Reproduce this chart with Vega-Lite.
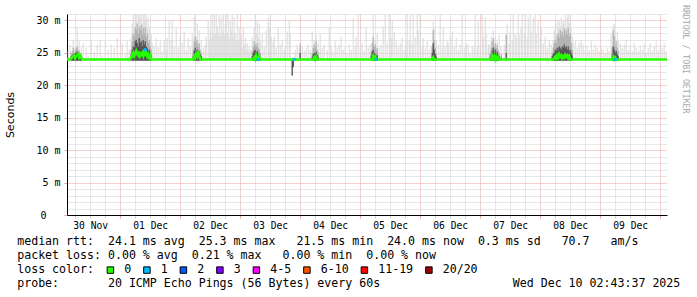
{
 "$schema": "https://vega.github.io/schema/vega-lite/v6.json",
 "width": 600,
 "height": 201,
 "autosize": {"type": "none"},
 "padding": {"left": 67, "top": 14, "right": 30, "bottom": 82},
 "background": "white",
 "config": {"view": {"stroke": null}, "font": "DejaVu Sans Mono"},
 "title": {"text": "RRDTOOL / TOBI OETIKER", "orient": "right", "anchor": "start", "frame": "group", "font": "DejaVu Sans Mono", "fontSize": 8.2, "fontWeight": "normal", "color": "#a8a8a8", "offset": 1, "dx": -9},
 "datasets": {
  "light": [
   {"t":"2025-11-30T03:12","v":25.3},{"t":"2025-11-30T04:00","v":26.3},{"t":"2025-11-30T04:48","v":24.8},{"t":"2025-11-30T05:12","v":27.0},{"t":"2025-11-30T06:00","v":25.5},{"t":"2025-11-30T06:48","v":28.9},{"t":"2025-11-30T07:36","v":26.8},{"t":"2025-11-30T08:24","v":25.8},{"t":"2025-11-30T09:12","v":26.5},{"t":"2025-11-30T10:24","v":25.8},{"t":"2025-11-30T11:12","v":24.6},{"t":"2025-11-30T12:24","v":26.8},{"t":"2025-11-30T13:36","v":25.2},{"t":"2025-11-30T14:48","v":26.3},{"t":"2025-11-30T16:00","v":27.0},{"t":"2025-11-30T16:48","v":24.7},{"t":"2025-11-30T18:00","v":26.8},{"t":"2025-11-30T19:12","v":25.5},{"t":"2025-11-30T20:24","v":26.3},{"t":"2025-11-30T21:36","v":25.8},{"t":"2025-11-30T22:48","v":27.3},
   {"t":"2025-12-01T00:00","v":25.0},{"t":"2025-12-01T00:48","v":26.5},{"t":"2025-12-01T02:00","v":24.8},{"t":"2025-12-01T02:48","v":26.8},{"t":"2025-12-01T03:36","v":25.5},{"t":"2025-12-01T04:24","v":27.5},{"t":"2025-12-01T04:48","v":29.5},{"t":"2025-12-01T05:12","v":30.9},{"t":"2025-12-01T05:36","v":28.5},{"t":"2025-12-01T06:00","v":30.9},{"t":"2025-12-01T06:24","v":31},{"t":"2025-12-01T06:48","v":29.8},{"t":"2025-12-01T07:12","v":30.9},{"t":"2025-12-01T07:36","v":31},{"t":"2025-12-01T08:00","v":30.5},{"t":"2025-12-01T08:24","v":31},{"t":"2025-12-01T08:48","v":29.5},{"t":"2025-12-01T09:12","v":30.9},{"t":"2025-12-01T09:36","v":31},{"t":"2025-12-01T10:00","v":30.2},{"t":"2025-12-01T10:24","v":30.9},{"t":"2025-12-01T10:48","v":28.8},{"t":"2025-12-01T11:12","v":30.5},{"t":"2025-12-01T11:36","v":29.0},{"t":"2025-12-01T12:00","v":27.5},{"t":"2025-12-01T12:24","v":28.0},{"t":"2025-12-01T12:48","v":26.5},{"t":"2025-12-01T13:36","v":26.0},{"t":"2025-12-01T14:24","v":27.3},{"t":"2025-12-01T15:12","v":25.8},{"t":"2025-12-01T16:00","v":26.8},{"t":"2025-12-01T16:48","v":25.3},{"t":"2025-12-01T17:36","v":27.0},{"t":"2025-12-01T18:24","v":25.5},{"t":"2025-12-01T18:48","v":27.3},{"t":"2025-12-01T19:36","v":29.9},{"t":"2025-12-01T20:24","v":27.0},{"t":"2025-12-01T20:48","v":29.9},{"t":"2025-12-01T21:36","v":26.0},{"t":"2025-12-01T22:24","v":28.9},{"t":"2025-12-01T23:12","v":25.8},
   {"t":"2025-12-02T00:00","v":27.8},{"t":"2025-12-02T00:48","v":26.5},{"t":"2025-12-02T01:36","v":28.3},{"t":"2025-12-02T02:24","v":25.5},{"t":"2025-12-02T03:12","v":27.3},{"t":"2025-12-02T04:00","v":26.0},{"t":"2025-12-02T04:48","v":28.0},{"t":"2025-12-02T05:36","v":30.5},{"t":"2025-12-02T06:00","v":30.9},{"t":"2025-12-02T06:24","v":27.5},{"t":"2025-12-02T06:48","v":29.5},{"t":"2025-12-02T07:36","v":28.5},{"t":"2025-12-02T08:24","v":27.0},{"t":"2025-12-02T09:12","v":25.8},{"t":"2025-12-02T10:00","v":26.3},{"t":"2025-12-02T10:24","v":27.5},{"t":"2025-12-02T11:12","v":29.9},{"t":"2025-12-02T11:36","v":26.8},{"t":"2025-12-02T12:00","v":28.5},{"t":"2025-12-02T12:24","v":27.3},{"t":"2025-12-02T12:48","v":31},{"t":"2025-12-02T13:12","v":28.0},{"t":"2025-12-02T13:36","v":30.9},{"t":"2025-12-02T14:00","v":27.8},{"t":"2025-12-02T14:24","v":31},{"t":"2025-12-02T14:48","v":29.0},{"t":"2025-12-02T15:12","v":28.0},{"t":"2025-12-02T15:36","v":31},{"t":"2025-12-02T16:00","v":27.5},{"t":"2025-12-02T16:24","v":30.5},{"t":"2025-12-02T16:48","v":28.3},{"t":"2025-12-02T17:12","v":31},{"t":"2025-12-02T17:36","v":27.8},{"t":"2025-12-02T18:00","v":29.5},{"t":"2025-12-02T18:24","v":31},{"t":"2025-12-02T18:48","v":28.0},{"t":"2025-12-02T19:12","v":30.9},{"t":"2025-12-02T19:36","v":27.3},{"t":"2025-12-02T20:00","v":29.9},{"t":"2025-12-02T20:24","v":28.5},{"t":"2025-12-02T20:48","v":31},{"t":"2025-12-02T21:12","v":27.5},{"t":"2025-12-02T21:36","v":30.5},{"t":"2025-12-02T22:00","v":28.0},{"t":"2025-12-02T22:24","v":26.8},{"t":"2025-12-02T22:48","v":31},{"t":"2025-12-02T23:12","v":27.0},{"t":"2025-12-02T23:36","v":28.9},
   {"t":"2025-12-03T00:00","v":26.5},{"t":"2025-12-03T00:24","v":27.8},{"t":"2025-12-03T00:48","v":25.8},{"t":"2025-12-03T01:12","v":29.0},{"t":"2025-12-03T01:36","v":26.3},{"t":"2025-12-03T02:00","v":27.3},{"t":"2025-12-03T02:24","v":25.5},{"t":"2025-12-03T02:48","v":26.5},{"t":"2025-12-03T03:12","v":25.3},{"t":"2025-12-03T03:36","v":26.0},{"t":"2025-12-03T04:00","v":25.5},{"t":"2025-12-03T04:48","v":27.5},{"t":"2025-12-03T05:36","v":29.0},{"t":"2025-12-03T06:00","v":30.9},{"t":"2025-12-03T06:24","v":28.0},{"t":"2025-12-03T06:48","v":30.0},{"t":"2025-12-03T07:12","v":27.5},{"t":"2025-12-03T07:36","v":29.5},{"t":"2025-12-03T08:00","v":26.8},{"t":"2025-12-03T08:48","v":28.0},{"t":"2025-12-03T09:36","v":26.0},{"t":"2025-12-03T10:24","v":28.5},{"t":"2025-12-03T11:12","v":30.5},{"t":"2025-12-03T11:36","v":29.0},{"t":"2025-12-03T12:00","v":30.9},{"t":"2025-12-03T12:24","v":27.5},{"t":"2025-12-03T13:12","v":26.8},{"t":"2025-12-03T13:36","v":27.5},{"t":"2025-12-03T14:24","v":25.8},{"t":"2025-12-03T15:12","v":28.9},{"t":"2025-12-03T16:00","v":26.3},{"t":"2025-12-03T16:48","v":27.0},{"t":"2025-12-03T17:36","v":25.5},{"t":"2025-12-03T18:00","v":26.0},{"t":"2025-12-03T18:48","v":28.3},{"t":"2025-12-03T19:36","v":30.0},{"t":"2025-12-03T20:00","v":28.0},{"t":"2025-12-03T22:00","v":25.5},{"t":"2025-12-03T22:48","v":26.3},{"t":"2025-12-03T23:36","v":25.8},
   {"t":"2025-12-04T00:48","v":26.0},{"t":"2025-12-04T01:36","v":25.3},{"t":"2025-12-04T02:24","v":25.8},{"t":"2025-12-04T03:12","v":26.3},{"t":"2025-12-04T04:00","v":25.5},{"t":"2025-12-04T04:48","v":28.3},{"t":"2025-12-04T05:36","v":27.0},{"t":"2025-12-04T06:24","v":27.8},{"t":"2025-12-04T07:12","v":26.5},{"t":"2025-12-04T08:00","v":28.0},{"t":"2025-12-04T08:48","v":25.8},{"t":"2025-12-04T09:36","v":26.3},{"t":"2025-12-04T10:48","v":25.5},{"t":"2025-12-04T11:36","v":28.9},{"t":"2025-12-04T12:24","v":26.0},{"t":"2025-12-04T13:12","v":25.3},{"t":"2025-12-04T14:00","v":26.8},{"t":"2025-12-04T14:48","v":25.8},{"t":"2025-12-04T15:36","v":26.3},{"t":"2025-12-04T16:24","v":27.5},{"t":"2025-12-04T17:12","v":25.5},{"t":"2025-12-04T18:00","v":26.0},{"t":"2025-12-04T18:48","v":24.8},{"t":"2025-12-04T19:36","v":26.3},{"t":"2025-12-04T20:24","v":25.5},{"t":"2025-12-04T21:12","v":30.4},{"t":"2025-12-04T22:00","v":26.0},{"t":"2025-12-04T22:24","v":27.5},{"t":"2025-12-04T23:12","v":31},
   {"t":"2025-12-05T00:00","v":25.8},{"t":"2025-12-05T00:48","v":26.5},{"t":"2025-12-05T01:36","v":25.3},{"t":"2025-12-05T02:24","v":28.9},{"t":"2025-12-05T03:12","v":25.8},{"t":"2025-12-05T04:00","v":26.3},{"t":"2025-12-05T05:12","v":31},{"t":"2025-12-05T06:00","v":27.0},{"t":"2025-12-05T06:48","v":28.0},{"t":"2025-12-05T07:36","v":25.8},{"t":"2025-12-05T08:24","v":26.3},{"t":"2025-12-05T09:12","v":29.1},{"t":"2025-12-05T10:00","v":30.9},{"t":"2025-12-05T10:48","v":26.5},{"t":"2025-12-05T11:36","v":31},{"t":"2025-12-05T12:24","v":27.3},{"t":"2025-12-05T12:48","v":30.0},{"t":"2025-12-05T13:36","v":28.2},{"t":"2025-12-05T14:24","v":26.8},{"t":"2025-12-05T15:12","v":25.8},{"t":"2025-12-05T16:00","v":26.5},{"t":"2025-12-05T16:48","v":27.3},{"t":"2025-12-05T17:36","v":25.5},{"t":"2025-12-05T18:24","v":26.8},{"t":"2025-12-05T18:48","v":31},{"t":"2025-12-05T19:36","v":27.0},{"t":"2025-12-05T20:00","v":30.9},{"t":"2025-12-05T20:48","v":26.5},{"t":"2025-12-05T21:12","v":30.9},{"t":"2025-12-05T22:00","v":27.5},{"t":"2025-12-05T22:48","v":31},{"t":"2025-12-05T23:12","v":28.5},
   {"t":"2025-12-06T00:00","v":31},{"t":"2025-12-06T00:48","v":26.0},{"t":"2025-12-06T01:12","v":27.3},{"t":"2025-12-06T02:00","v":25.8},{"t":"2025-12-06T02:48","v":26.8},{"t":"2025-12-06T03:36","v":25.5},{"t":"2025-12-06T04:24","v":26.0},{"t":"2025-12-06T05:12","v":29.8},{"t":"2025-12-06T05:36","v":29.0},{"t":"2025-12-06T06:24","v":27.0},{"t":"2025-12-06T07:12","v":26.3},{"t":"2025-12-06T08:00","v":31},{"t":"2025-12-06T08:48","v":25.8},{"t":"2025-12-06T09:12","v":28.9},{"t":"2025-12-06T10:00","v":26.0},{"t":"2025-12-06T10:48","v":27.0},{"t":"2025-12-06T11:12","v":26.5},{"t":"2025-12-06T12:00","v":27.5},{"t":"2025-12-06T12:48","v":28.3},{"t":"2025-12-06T13:36","v":26.0},{"t":"2025-12-06T14:24","v":27.3},{"t":"2025-12-06T15:12","v":25.5},{"t":"2025-12-06T16:00","v":26.3},{"t":"2025-12-06T16:48","v":31},{"t":"2025-12-06T17:36","v":25.8},{"t":"2025-12-06T18:24","v":26.5},{"t":"2025-12-06T19:12","v":26.3},{"t":"2025-12-06T20:00","v":25.0},{"t":"2025-12-06T20:48","v":26.0},{"t":"2025-12-06T21:36","v":25.8},{"t":"2025-12-06T22:00","v":30.9},{"t":"2025-12-06T22:48","v":26.0},{"t":"2025-12-06T23:12","v":30.1},
   {"t":"2025-12-07T00:00","v":26.3},{"t":"2025-12-07T00:48","v":30.9},{"t":"2025-12-07T01:12","v":27.5},{"t":"2025-12-07T02:00","v":30.5},{"t":"2025-12-07T02:24","v":28.0},{"t":"2025-12-07T03:12","v":26.3},{"t":"2025-12-07T03:36","v":26.3},{"t":"2025-12-07T04:24","v":27.5},{"t":"2025-12-07T05:12","v":28.5},{"t":"2025-12-07T06:00","v":27.5},{"t":"2025-12-07T06:48","v":26.8},{"t":"2025-12-07T07:36","v":27.8},{"t":"2025-12-07T08:24","v":26.0},{"t":"2025-12-07T09:36","v":26.3},{"t":"2025-12-07T10:24","v":27.8},{"t":"2025-12-07T10:48","v":29.4},{"t":"2025-12-07T11:36","v":26.5},{"t":"2025-12-07T12:00","v":28.3},{"t":"2025-12-07T12:48","v":26.8},{"t":"2025-12-07T13:12","v":30.9},{"t":"2025-12-07T14:00","v":28.0},{"t":"2025-12-07T14:24","v":27.5},{"t":"2025-12-07T15:12","v":31},{"t":"2025-12-07T15:36","v":27.8},{"t":"2025-12-07T16:24","v":29.0},{"t":"2025-12-07T16:48","v":30.9},{"t":"2025-12-07T17:36","v":28.0},{"t":"2025-12-07T18:00","v":30.9},{"t":"2025-12-07T18:48","v":27.5},{"t":"2025-12-07T19:12","v":30.5},{"t":"2025-12-07T20:00","v":30.9},{"t":"2025-12-07T20:24","v":28.3},{"t":"2025-12-07T21:12","v":30.5},{"t":"2025-12-07T22:00","v":30.9},{"t":"2025-12-07T22:24","v":28.0},{"t":"2025-12-07T23:12","v":30.0},
   {"t":"2025-12-08T00:00","v":27.5},{"t":"2025-12-08T00:24","v":29.0},{"t":"2025-12-08T01:12","v":26.5},{"t":"2025-12-08T02:00","v":27.5},{"t":"2025-12-08T02:48","v":25.8},{"t":"2025-12-08T03:36","v":27.0},{"t":"2025-12-08T04:24","v":26.3},{"t":"2025-12-08T05:12","v":27.0},{"t":"2025-12-08T05:36","v":28.5},{"t":"2025-12-08T06:00","v":29.5},{"t":"2025-12-08T06:24","v":28.0},{"t":"2025-12-08T06:48","v":30.1},{"t":"2025-12-08T07:12","v":28.8},{"t":"2025-12-08T07:36","v":30.0},{"t":"2025-12-08T08:00","v":29.0},{"t":"2025-12-08T08:24","v":30.5},{"t":"2025-12-08T08:48","v":29.3},{"t":"2025-12-08T09:12","v":30.1},{"t":"2025-12-08T09:36","v":29.5},{"t":"2025-12-08T10:00","v":30.9},{"t":"2025-12-08T10:24","v":29.0},{"t":"2025-12-08T10:48","v":30.5},{"t":"2025-12-08T11:12","v":30.9},{"t":"2025-12-08T11:36","v":29.5},{"t":"2025-12-08T12:00","v":30.9},{"t":"2025-12-08T12:24","v":29.0},{"t":"2025-12-08T12:48","v":27.5},{"t":"2025-12-08T13:12","v":26.5},{"t":"2025-12-08T14:00","v":26.8},{"t":"2025-12-08T14:48","v":25.8},{"t":"2025-12-08T15:36","v":26.5},{"t":"2025-12-08T16:24","v":27.0},{"t":"2025-12-08T17:12","v":26.3},{"t":"2025-12-08T18:00","v":25.5},{"t":"2025-12-08T18:48","v":26.0},{"t":"2025-12-08T19:36","v":25.3},{"t":"2025-12-08T20:24","v":26.8},{"t":"2025-12-08T21:12","v":25.5},{"t":"2025-12-08T22:00","v":26.3},{"t":"2025-12-08T22:48","v":25.8},{"t":"2025-12-08T23:36","v":25.3},
   {"t":"2025-12-09T00:24","v":26.0},{"t":"2025-12-09T01:12","v":25.5},{"t":"2025-12-09T02:00","v":25.0},{"t":"2025-12-09T02:48","v":25.8},{"t":"2025-12-09T03:36","v":25.3},{"t":"2025-12-09T04:24","v":28.0},{"t":"2025-12-09T05:12","v":29.1},{"t":"2025-12-09T05:36","v":29.5},{"t":"2025-12-09T06:00","v":27.8},{"t":"2025-12-09T06:48","v":28.3},{"t":"2025-12-09T07:12","v":27.0},{"t":"2025-12-09T08:00","v":26.5},{"t":"2025-12-09T08:48","v":25.8},{"t":"2025-12-09T09:36","v":26.3},{"t":"2025-12-09T10:24","v":27.0},{"t":"2025-12-09T11:12","v":25.5},{"t":"2025-12-09T12:00","v":26.0},{"t":"2025-12-09T12:48","v":25.3},{"t":"2025-12-09T13:36","v":26.5},{"t":"2025-12-09T14:24","v":25.8},{"t":"2025-12-09T15:12","v":25.3},{"t":"2025-12-09T16:00","v":26.0},{"t":"2025-12-09T16:48","v":25.5},{"t":"2025-12-09T17:36","v":26.3},{"t":"2025-12-09T18:24","v":25.0},{"t":"2025-12-09T19:12","v":25.8},{"t":"2025-12-09T20:00","v":26.5},{"t":"2025-12-09T20:48","v":25.3},{"t":"2025-12-09T21:36","v":26.0},{"t":"2025-12-09T22:24","v":26.8},{"t":"2025-12-09T23:12","v":25.5},
   {"t":"2025-12-10T00:00","v":26.3},{"t":"2025-12-10T00:48","v":25.8},{"t":"2025-12-10T01:36","v":26.5},{"t":"2025-12-10T02:24","v":25.3}
  ],
  "dense": [
   {"t":"2025-11-30T04:24","lo":23.8,"m":25.0,"d":24.5},{"t":"2025-11-30T04:48","lo":23.8,"m":25.3,"d":24.6},{"t":"2025-11-30T05:12","lo":23.8,"m":25.8,"d":24.8},{"t":"2025-11-30T05:36","lo":23.8,"m":25.0,"d":24.7},{"t":"2025-11-30T06:00","lo":23.8,"m":25.5,"d":25.0},{"t":"2025-11-30T06:24","lo":23.8,"m":25.8,"d":24.9},{"t":"2025-11-30T06:48","lo":23.8,"m":26.0,"d":25.2},{"t":"2025-11-30T07:12","lo":23.8,"m":25.5,"d":24.8},{"t":"2025-11-30T07:36","lo":23.8,"m":25.3,"d":24.7},{"t":"2025-11-30T08:00","lo":23.8,"m":25.0,"d":24.5},{"t":"2025-11-30T08:24","lo":23.8,"m":24.8,"d":24.4},
   {"t":"2025-12-01T04:24","lo":23.8,"m":25.5,"d":24.8},{"t":"2025-12-01T04:48","lo":23.8,"m":26.8,"d":25.5},{"t":"2025-12-01T05:12","lo":23.8,"m":28.0,"d":26.0},{"t":"2025-12-01T05:36","lo":23.8,"m":27.5,"d":25.8},{"t":"2025-12-01T06:00","lo":23.8,"m":29.0,"d":26.8},{"t":"2025-12-01T06:24","lo":23.8,"m":28.5,"d":27.0},{"t":"2025-12-01T06:48","lo":23.8,"m":29.5,"d":26.5},{"t":"2025-12-01T07:12","lo":23.8,"m":28.0,"d":26.0},{"t":"2025-12-01T07:36","lo":23.8,"m":29.0,"d":27.3},{"t":"2025-12-01T08:00","lo":23.8,"m":28.5,"d":26.5},{"t":"2025-12-01T08:24","lo":23.8,"m":29.3,"d":26.8},{"t":"2025-12-01T08:48","lo":23.8,"m":27.8,"d":26.0},{"t":"2025-12-01T09:12","lo":23.8,"m":28.9,"d":27.0},{"t":"2025-12-01T09:36","lo":23.8,"m":28.0,"d":26.3},{"t":"2025-12-01T10:00","lo":23.8,"m":29.0,"d":26.8},{"t":"2025-12-01T10:24","lo":23.8,"m":27.5,"d":26.0},{"t":"2025-12-01T10:48","lo":23.8,"m":28.0,"d":25.8},{"t":"2025-12-01T11:12","lo":23.8,"m":26.5,"d":25.3},{"t":"2025-12-01T11:36","lo":23.8,"m":27.0,"d":25.5},{"t":"2025-12-01T12:00","lo":23.8,"m":26.0,"d":25.0},{"t":"2025-12-01T12:24","lo":23.8,"m":25.5,"d":24.6},
   {"t":"2025-12-02T05:12","lo":23.8,"m":25.5,"d":24.6},{"t":"2025-12-02T05:36","lo":23.8,"m":26.8,"d":25.3},{"t":"2025-12-02T06:00","lo":23.8,"m":27.5,"d":25.8},{"t":"2025-12-02T06:24","lo":23.8,"m":26.5,"d":25.3},{"t":"2025-12-02T06:48","lo":23.8,"m":27.0,"d":25.5},{"t":"2025-12-02T07:12","lo":23.8,"m":26.0,"d":25.0},{"t":"2025-12-02T07:36","lo":23.8,"m":26.5,"d":25.3},{"t":"2025-12-02T08:00","lo":23.8,"m":25.5,"d":24.8},{"t":"2025-12-02T08:24","lo":23.8,"m":25.0,"d":24.5},
   {"t":"2025-12-03T04:48","lo":23.8,"m":25.3,"d":24.5},{"t":"2025-12-03T05:12","lo":23.8,"m":26.0,"d":25.0},{"t":"2025-12-03T05:36","lo":23.8,"m":26.8,"d":25.3},{"t":"2025-12-03T06:00","lo":23.8,"m":26.3,"d":25.5},{"t":"2025-12-03T06:24","lo":23.8,"m":26.0,"d":25.0},{"t":"2025-12-03T06:48","lo":23.8,"m":26.5,"d":25.3},{"t":"2025-12-03T07:12","lo":23.8,"m":25.8,"d":24.8},{"t":"2025-12-03T07:36","lo":23.8,"m":25.5,"d":24.6},{"t":"2025-12-03T08:00","lo":23.8,"m":25.0,"d":24.3},
   {"t":"2025-12-03T20:48","lo":21.5,"m":24.2,"d":24.0},{"t":"2025-12-03T21:12","lo":22.8,"m":24.0,"d":24.0},
   {"t":"2025-12-04T00:00","lo":23.8,"m":26.5,"d":25.0},
   {"t":"2025-12-04T04:48","lo":23.8,"m":25.0,"d":24.4},{"t":"2025-12-04T05:12","lo":23.8,"m":25.8,"d":24.8},{"t":"2025-12-04T05:36","lo":23.8,"m":26.3,"d":25.0},{"t":"2025-12-04T06:00","lo":23.8,"m":25.8,"d":24.8},{"t":"2025-12-04T06:24","lo":23.8,"m":26.8,"d":25.2},{"t":"2025-12-04T06:48","lo":23.8,"m":25.5,"d":24.7},{"t":"2025-12-04T07:12","lo":23.8,"m":25.0,"d":24.4},
   {"t":"2025-12-05T04:24","lo":23.8,"m":25.3,"d":24.6},{"t":"2025-12-05T04:48","lo":23.8,"m":26.5,"d":25.2},{"t":"2025-12-05T05:12","lo":23.8,"m":27.5,"d":25.5},{"t":"2025-12-05T05:36","lo":23.8,"m":26.0,"d":25.0},{"t":"2025-12-05T06:00","lo":23.8,"m":26.3,"d":24.8},{"t":"2025-12-05T06:24","lo":23.8,"m":25.5,"d":24.5},{"t":"2025-12-05T06:48","lo":23.8,"m":25.8,"d":24.7},
   {"t":"2025-12-06T04:48","lo":23.8,"m":26.0,"d":25.0},{"t":"2025-12-06T05:12","lo":23.8,"m":28.5,"d":26.5},{"t":"2025-12-06T05:36","lo":23.8,"m":27.0,"d":25.5},{"t":"2025-12-06T06:00","lo":23.8,"m":25.8,"d":24.8},{"t":"2025-12-06T06:24","lo":23.8,"m":25.0,"d":24.4},
   {"t":"2025-12-07T04:00","lo":23.8,"m":25.0,"d":24.4},{"t":"2025-12-07T04:24","lo":23.8,"m":25.8,"d":24.8},{"t":"2025-12-07T04:48","lo":23.8,"m":26.8,"d":25.3},{"t":"2025-12-07T05:12","lo":23.8,"m":27.3,"d":25.8},{"t":"2025-12-07T05:36","lo":23.8,"m":26.0,"d":25.0},{"t":"2025-12-07T06:00","lo":23.8,"m":26.5,"d":25.5},{"t":"2025-12-07T06:24","lo":23.8,"m":25.8,"d":24.8},{"t":"2025-12-07T06:48","lo":23.8,"m":26.3,"d":25.2},{"t":"2025-12-07T07:12","lo":23.8,"m":25.5,"d":24.6},{"t":"2025-12-07T07:36","lo":23.8,"m":25.0,"d":24.5},{"t":"2025-12-07T08:24","lo":23.8,"m":24.8,"d":24.3},{"t":"2025-12-07T10:24","lo":23.8,"m":27.8,"d":25.0},
   {"t":"2025-12-08T04:48","lo":23.8,"m":25.0,"d":24.5},{"t":"2025-12-08T05:12","lo":23.8,"m":25.8,"d":24.8},{"t":"2025-12-08T05:36","lo":23.8,"m":26.5,"d":25.0},{"t":"2025-12-08T06:00","lo":23.8,"m":27.0,"d":25.5},{"t":"2025-12-08T06:24","lo":23.8,"m":26.5,"d":25.3},{"t":"2025-12-08T06:48","lo":23.8,"m":27.5,"d":25.8},{"t":"2025-12-08T07:12","lo":23.8,"m":28.0,"d":25.5},{"t":"2025-12-08T07:36","lo":23.8,"m":27.3,"d":26.0},{"t":"2025-12-08T08:00","lo":23.8,"m":28.5,"d":25.8},{"t":"2025-12-08T08:24","lo":23.8,"m":27.8,"d":25.5},{"t":"2025-12-08T08:48","lo":23.8,"m":28.3,"d":26.0},{"t":"2025-12-08T09:12","lo":23.8,"m":27.5,"d":25.8},{"t":"2025-12-08T09:36","lo":23.8,"m":28.8,"d":26.3},{"t":"2025-12-08T10:00","lo":23.8,"m":28.0,"d":25.8},{"t":"2025-12-08T10:24","lo":23.8,"m":28.5,"d":26.0},{"t":"2025-12-08T10:48","lo":23.8,"m":27.8,"d":25.5},{"t":"2025-12-08T11:12","lo":23.8,"m":28.9,"d":26.0},{"t":"2025-12-08T11:36","lo":23.8,"m":27.5,"d":25.3},{"t":"2025-12-08T12:00","lo":23.8,"m":28.0,"d":25.5},{"t":"2025-12-08T12:24","lo":23.8,"m":26.5,"d":25.0},{"t":"2025-12-08T12:48","lo":23.8,"m":25.5,"d":24.6},
   {"t":"2025-12-09T04:48","lo":23.8,"m":25.8,"d":24.8},{"t":"2025-12-09T05:12","lo":23.8,"m":28.5,"d":26.0},{"t":"2025-12-09T05:36","lo":23.8,"m":27.5,"d":25.5},{"t":"2025-12-09T06:00","lo":23.8,"m":26.0,"d":25.0},{"t":"2025-12-09T06:24","lo":23.8,"m":26.8,"d":25.3},{"t":"2025-12-09T06:48","lo":23.8,"m":25.8,"d":24.8},{"t":"2025-12-09T07:12","lo":23.8,"m":25.3,"d":24.5}
  ],
  "median": [
   {"t":"2025-11-30T02:44","v":24.0},{"t":"2025-11-30T04:00","v":24.0},{"t":"2025-11-30T04:48","v":24.3},{"t":"2025-11-30T05:36","v":24.6},{"t":"2025-11-30T06:00","v":24.2},{"t":"2025-11-30T06:24","v":24.5},{"t":"2025-11-30T07:12","v":24.8},{"t":"2025-11-30T07:36","v":24.3},{"t":"2025-11-30T08:00","v":24.6},{"t":"2025-11-30T08:48","v":24.0},
   {"t":"2025-12-01T04:00","v":24.0},{"t":"2025-12-01T04:48","v":24.6},{"t":"2025-12-01T05:12","v":25.0},{"t":"2025-12-01T05:36","v":24.5},{"t":"2025-12-01T06:24","v":25.3},{"t":"2025-12-01T06:48","v":24.8},{"t":"2025-12-01T07:12","v":24.6},{"t":"2025-12-01T07:36","v":25.2},{"t":"2025-12-01T08:00","v":24.5},{"t":"2025-12-01T08:48","v":25.0},{"t":"2025-12-01T09:12","v":24.6},{"t":"2025-12-01T09:36","v":25.5},{"t":"2025-12-01T10:00","v":24.8},{"t":"2025-12-01T10:24","v":25.0},{"t":"2025-12-01T10:48","v":24.5},{"t":"2025-12-01T11:12","v":24.8},{"t":"2025-12-01T11:36","v":24.3},{"t":"2025-12-01T12:00","v":24.6},{"t":"2025-12-01T12:24","v":24.0},
   {"t":"2025-12-02T05:12","v":24.0},{"t":"2025-12-02T05:36","v":24.5},{"t":"2025-12-02T06:00","v":24.2},{"t":"2025-12-02T06:24","v":24.8},{"t":"2025-12-02T06:48","v":24.5},{"t":"2025-12-02T07:12","v":25.3},{"t":"2025-12-02T07:36","v":24.6},{"t":"2025-12-02T08:00","v":24.0},
   {"t":"2025-12-03T05:12","v":24.0},{"t":"2025-12-03T05:36","v":24.3},{"t":"2025-12-03T06:00","v":24.0},{"t":"2025-12-03T06:24","v":24.6},{"t":"2025-12-03T06:48","v":24.2},{"t":"2025-12-03T07:12","v":24.0},{"t":"2025-12-03T07:36","v":24.5},{"t":"2025-12-03T08:00","v":24.0},
   {"t":"2025-12-04T05:12","v":24.0},{"t":"2025-12-04T05:36","v":24.3},{"t":"2025-12-04T06:00","v":24.0},{"t":"2025-12-04T06:24","v":24.4},{"t":"2025-12-04T06:48","v":24.0},
   {"t":"2025-12-05T04:48","v":24.0},{"t":"2025-12-05T05:12","v":24.5},{"t":"2025-12-05T05:36","v":24.1},{"t":"2025-12-05T06:00","v":24.4},{"t":"2025-12-05T06:24","v":24.0},
   {"t":"2025-12-06T04:48","v":24.0},{"t":"2025-12-06T05:12","v":24.3},{"t":"2025-12-06T05:36","v":24.0},
   {"t":"2025-12-07T04:24","v":24.0},{"t":"2025-12-07T04:48","v":24.6},{"t":"2025-12-07T05:12","v":24.2},{"t":"2025-12-07T05:36","v":24.5},{"t":"2025-12-07T06:00","v":24.0},{"t":"2025-12-07T06:24","v":24.4},{"t":"2025-12-07T06:48","v":24.0},{"t":"2025-12-07T07:12","v":24.3},{"t":"2025-12-07T07:36","v":24.0},
   {"t":"2025-12-08T05:12","v":24.0},{"t":"2025-12-08T06:00","v":24.4},{"t":"2025-12-08T06:24","v":24.1},{"t":"2025-12-08T06:48","v":24.6},{"t":"2025-12-08T07:12","v":24.3},{"t":"2025-12-08T07:36","v":24.8},{"t":"2025-12-08T08:00","v":24.4},{"t":"2025-12-08T08:24","v":24.6},{"t":"2025-12-08T08:48","v":24.2},{"t":"2025-12-08T09:12","v":24.5},{"t":"2025-12-08T09:36","v":24.3},{"t":"2025-12-08T10:00","v":24.7},{"t":"2025-12-08T10:24","v":24.4},{"t":"2025-12-08T10:48","v":24.6},{"t":"2025-12-08T11:12","v":24.2},{"t":"2025-12-08T11:36","v":24.5},{"t":"2025-12-08T12:00","v":24.0},
   {"t":"2025-12-09T04:48","v":24.0},{"t":"2025-12-09T05:12","v":24.4},{"t":"2025-12-09T05:36","v":24.0},{"t":"2025-12-09T06:00","v":24.3},{"t":"2025-12-09T06:24","v":24.0},
   {"t":"2025-12-10T02:43","v":24.0}
  ],
  "loss": [
   {"t":"2025-12-01T10:00","v":25.5,"loss":"1"},{"t":"2025-12-03T07:12","v":24.0,"loss":"1"},{"t":"2025-12-03T21:36","v":24.0,"loss":"1"},{"t":"2025-12-05T06:24","v":24.0,"loss":"1"},{"t":"2025-12-09T06:00","v":24.0,"loss":"1"}
  ]
 },
 "encoding": {
  "x": {
   "field": "t", "type": "temporal",
   "scale": {"domain": [{"year": 2025, "month": 11, "date": 30, "hours": 2, "minutes": 43, "seconds": 37}, {"year": 2025, "month": 12, "date": 10, "hours": 2, "minutes": 43, "seconds": 37}], "nice": false},
   "axis": {
    "title": [
     "median\u00a0rtt:\u00a0\u00a024.1\u00a0ms\u00a0avg\u00a0\u00a025.3\u00a0ms\u00a0max\u00a0\u00a0\u00a021.5\u00a0ms\u00a0min\u00a0\u00a024.0\u00a0ms\u00a0now\u00a0\u00a00.3\u00a0ms\u00a0sd\u00a0\u00a0\u00a070.7\u00a0\u00a0\u00a0am/s",
     "packet\u00a0loss:\u00a00.00\u00a0%\u00a0avg\u00a0\u00a00.21\u00a0%\u00a0max\u00a0\u00a0\u00a00.00\u00a0%\u00a0min\u00a0\u00a00.00\u00a0%\u00a0now",
     "loss\u00a0color:",
     "probe:\u00a0\u00a0\u00a0\u00a0\u00a0\u00a0\u00a020\u00a0ICMP\u00a0Echo\u00a0Pings\u00a0(56\u00a0Bytes)\u00a0every\u00a060s\u00a0\u00a0\u00a0\u00a0\u00a0\u00a0\u00a0\u00a0\u00a0\u00a0\u00a0\u00a0\u00a0\u00a0\u00a0\u00a0\u00a0\u00a0\u00a0Wed\u00a0Dec\u00a010\u00a002:43:37\u00a02025"
    ],
    "titleX": -50.3, "titleY": 29.7, "titleAnchor": "start", "titleAlign": "left", "titleBaseline": "alphabetic",
    "titleFont": "DejaVu Sans Mono", "titleFontSize": 11.6, "titleFontWeight": "normal", "titleColor": "#000000", "titleLineHeight": 13.9,
    "tickCount": 50,
    "grid": true,
    "gridColor": {"condition": {"test": "hours(datum.value) == 0", "value": "#e6a3a3"}, "value": "#cfcfcf"},
    "gridDash": [1, 1], "gridWidth": 1,
    "ticks": true, "tickSize": 3,
    "tickColor": {"condition": {"test": "hours(datum.value) == 0", "value": "#e6a3a3"}, "value": "#cfcfcf"},
    "labelExpr": "hours(datum.value) == 12 ? timeFormat(datum.value, '%d %b') : ''",
    "labelFont": "DejaVu Sans Mono", "labelFontSize": 9.7, "labelColor": "#000000", "labelPadding": 2,
    "labelOverlap": false, "labelFlush": false, "labelBound": false,
    "domainColor": "#000000", "domainWidth": 1
   }
  }
 },
 "layer": [
  {
   "data": {"name": "light"},
   "mark": {"type": "rule", "color": "#d9d9d9", "strokeWidth": 1},
   "encoding": {
    "y": {"field": "v", "type": "quantitative", "scale": {"domain": [0, 31], "nice": false, "zero": true},
     "axis": {"title": "Seconds", "titleFont": "DejaVu Sans", "titleFontSize": 11, "titleFontWeight": "normal", "titleColor": "#000000", "titleX": -57, "titleY": 100.5, "titleAngle": 270, "titleAlign": "center", "titleBaseline": "middle", "values": [0,1,2,3,4,5,6,7,8,9,10,11,12,13,14,15,16,17,18,19,20,21,22,23,24,25,26,27,28,29,30,31], "labelExpr": "datum.value == 0 ? '0' : (datum.value % 5 == 0 ? datum.value + '\u00a0m' : '')", "labelFont": "DejaVu Sans Mono", "labelFontSize": 10, "labelColor": "#000000", "labelPadding": {"condition": {"test": "datum.value == 0", "value": 18}, "value": 4}, "grid": true, "gridColor": {"condition": {"test": "datum.value % 5 == 0", "value": "#e6a3a3"}, "value": "#cfcfcf"}, "gridDash": [1, 1], "gridWidth": 1, "ticks": true, "tickSize": 3, "tickColor": {"condition": {"test": "datum.value % 5 == 0", "value": "#e6a3a3"}, "value": "#ffffff"}, "domainColor": "#000000", "domainWidth": 1, "labelOverlap": false}
    },
    "y2": {"datum": 23.9}
   }
  },
  {
   "data": {"name": "dense"},
   "mark": {"type": "rule", "color": "#a6a6a6", "strokeWidth": 1},
   "encoding": {
    "y": {"field": "lo", "type": "quantitative", "scale": {"domain": [0, 31], "nice": false, "zero": true},
     "axis": {"title": "Seconds", "titleFont": "DejaVu Sans", "titleFontSize": 11, "titleFontWeight": "normal", "titleColor": "#000000", "titleX": -57, "titleY": 100.5, "titleAngle": 270, "titleAlign": "center", "titleBaseline": "middle", "values": [0,1,2,3,4,5,6,7,8,9,10,11,12,13,14,15,16,17,18,19,20,21,22,23,24,25,26,27,28,29,30,31], "labelExpr": "datum.value == 0 ? '0' : (datum.value % 5 == 0 ? datum.value + '\u00a0m' : '')", "labelFont": "DejaVu Sans Mono", "labelFontSize": 10, "labelColor": "#000000", "labelPadding": {"condition": {"test": "datum.value == 0", "value": 18}, "value": 4}, "grid": true, "gridColor": {"condition": {"test": "datum.value % 5 == 0", "value": "#e6a3a3"}, "value": "#cfcfcf"}, "gridDash": [1, 1], "gridWidth": 1, "ticks": true, "tickSize": 3, "tickColor": {"condition": {"test": "datum.value % 5 == 0", "value": "#e6a3a3"}, "value": "#ffffff"}, "domainColor": "#000000", "domainWidth": 1, "labelOverlap": false}
    },
    "y2": {"field": "m"}
   }
  },
  {
   "data": {"name": "dense"},
   "mark": {"type": "rule", "color": "#3a3a3a", "strokeWidth": 1},
   "encoding": {
    "y": {"field": "lo", "type": "quantitative", "scale": {"domain": [0, 31], "nice": false, "zero": true},
     "axis": {"title": "Seconds", "titleFont": "DejaVu Sans", "titleFontSize": 11, "titleFontWeight": "normal", "titleColor": "#000000", "titleX": -57, "titleY": 100.5, "titleAngle": 270, "titleAlign": "center", "titleBaseline": "middle", "values": [0,1,2,3,4,5,6,7,8,9,10,11,12,13,14,15,16,17,18,19,20,21,22,23,24,25,26,27,28,29,30,31], "labelExpr": "datum.value == 0 ? '0' : (datum.value % 5 == 0 ? datum.value + '\u00a0m' : '')", "labelFont": "DejaVu Sans Mono", "labelFontSize": 10, "labelColor": "#000000", "labelPadding": {"condition": {"test": "datum.value == 0", "value": 18}, "value": 4}, "grid": true, "gridColor": {"condition": {"test": "datum.value % 5 == 0", "value": "#e6a3a3"}, "value": "#cfcfcf"}, "gridDash": [1, 1], "gridWidth": 1, "ticks": true, "tickSize": 3, "tickColor": {"condition": {"test": "datum.value % 5 == 0", "value": "#e6a3a3"}, "value": "#ffffff"}, "domainColor": "#000000", "domainWidth": 1, "labelOverlap": false}
    },
    "y2": {"field": "d"}
   }
  },
  {
   "data": {"name": "median"},
   "mark": {"type": "line", "color": "#26ff00", "strokeWidth": 2.5},
   "encoding": {
    "y": {"field": "v", "type": "quantitative", "scale": {"domain": [0, 31], "nice": false, "zero": true},
     "axis": {"title": "Seconds", "titleFont": "DejaVu Sans", "titleFontSize": 11, "titleFontWeight": "normal", "titleColor": "#000000", "titleX": -57, "titleY": 100.5, "titleAngle": 270, "titleAlign": "center", "titleBaseline": "middle", "values": [0,1,2,3,4,5,6,7,8,9,10,11,12,13,14,15,16,17,18,19,20,21,22,23,24,25,26,27,28,29,30,31], "labelExpr": "datum.value == 0 ? '0' : (datum.value % 5 == 0 ? datum.value + '\u00a0m' : '')", "labelFont": "DejaVu Sans Mono", "labelFontSize": 10, "labelColor": "#000000", "labelPadding": {"condition": {"test": "datum.value == 0", "value": 18}, "value": 4}, "grid": true, "gridColor": {"condition": {"test": "datum.value % 5 == 0", "value": "#e6a3a3"}, "value": "#cfcfcf"}, "gridDash": [1, 1], "gridWidth": 1, "ticks": true, "tickSize": 3, "tickColor": {"condition": {"test": "datum.value % 5 == 0", "value": "#e6a3a3"}, "value": "#ffffff"}, "domainColor": "#000000", "domainWidth": 1, "labelOverlap": false}
    }
   }
  },
  {
   "data": {"name": "loss"},
   "mark": {"type": "point", "shape": "square", "filled": true, "size": 9, "opacity": 1},
   "encoding": {
    "y": {"field": "v", "type": "quantitative", "scale": {"domain": [0, 31], "nice": false, "zero": true},
     "axis": {"title": "Seconds", "titleFont": "DejaVu Sans", "titleFontSize": 11, "titleFontWeight": "normal", "titleColor": "#000000", "titleX": -57, "titleY": 100.5, "titleAngle": 270, "titleAlign": "center", "titleBaseline": "middle", "values": [0,1,2,3,4,5,6,7,8,9,10,11,12,13,14,15,16,17,18,19,20,21,22,23,24,25,26,27,28,29,30,31], "labelExpr": "datum.value == 0 ? '0' : (datum.value % 5 == 0 ? datum.value + '\u00a0m' : '')", "labelFont": "DejaVu Sans Mono", "labelFontSize": 10, "labelColor": "#000000", "labelPadding": {"condition": {"test": "datum.value == 0", "value": 18}, "value": 4}, "grid": true, "gridColor": {"condition": {"test": "datum.value % 5 == 0", "value": "#e6a3a3"}, "value": "#cfcfcf"}, "gridDash": [1, 1], "gridWidth": 1, "ticks": true, "tickSize": 3, "tickColor": {"condition": {"test": "datum.value % 5 == 0", "value": "#e6a3a3"}, "value": "#ffffff"}, "domainColor": "#000000", "domainWidth": 1, "labelOverlap": false}
    },
    "color": {
     "field": "loss", "type": "nominal",
     "scale": {"domain": ["0", "1", "2", "3", "4-5", "6-10", "11-19", "20/20"], "range": ["#26ff00", "#00b8ff", "#0059ff", "#7e00ff", "#ff00ff", "#ff5500", "#ff0000", "#a10000"]},
     "legend": {
      "orient": "none", "legendX": 37.6, "legendY": 250, "direction": "horizontal",
      "title": null,
      "labelFont": "DejaVu Sans Mono", "labelFontSize": 11.6, "labelColor": "#000000", "labelOffset": 8,
      "columnPadding": 9.5, "symbolType": "square", "symbolSize": 42, "symbolStrokeColor": "#000000", "symbolStrokeWidth": 1, "symbolOpacity": 1, "padding": 0
     }
    }
   }
  },
  {
   "data": {"values": [{"arrow": "y"}]},
   "mark": {"type": "point", "shape": "triangle-up", "filled": true, "size": 36, "color": "#8b1a1a", "opacity": 1, "yOffset": -3, "clip": false},
   "encoding": {
    "x": {"datum": {"year": 2025, "month": 11, "date": 30, "hours": 2, "minutes": 43, "seconds": 37}, "type": "temporal"},
    "y": {"datum": 31, "type": "quantitative",
     "axis": {"title": "Seconds", "titleFont": "DejaVu Sans", "titleFontSize": 11, "titleFontWeight": "normal", "titleColor": "#000000", "titleX": -57, "titleY": 100.5, "titleAngle": 270, "titleAlign": "center", "titleBaseline": "middle", "values": [0,1,2,3,4,5,6,7,8,9,10,11,12,13,14,15,16,17,18,19,20,21,22,23,24,25,26,27,28,29,30,31], "labelExpr": "datum.value == 0 ? '0' : (datum.value % 5 == 0 ? datum.value + '\u00a0m' : '')", "labelFont": "DejaVu Sans Mono", "labelFontSize": 10, "labelColor": "#000000", "labelPadding": {"condition": {"test": "datum.value == 0", "value": 18}, "value": 4}, "grid": true, "gridColor": {"condition": {"test": "datum.value % 5 == 0", "value": "#e6a3a3"}, "value": "#cfcfcf"}, "gridDash": [1, 1], "gridWidth": 1, "ticks": true, "tickSize": 3, "tickColor": {"condition": {"test": "datum.value % 5 == 0", "value": "#e6a3a3"}, "value": "#ffffff"}, "domainColor": "#000000", "domainWidth": 1, "labelOverlap": false}
    }
   }
  },
  {
   "data": {"values": [{"arrow": "x"}]},
   "mark": {"type": "point", "shape": "triangle-right", "filled": true, "size": 36, "color": "#8b1a1a", "opacity": 1, "xOffset": 4.5, "clip": false},
   "encoding": {
    "x": {"datum": {"year": 2025, "month": 12, "date": 10, "hours": 2, "minutes": 43, "seconds": 37}, "type": "temporal"},
    "y": {"datum": 0, "type": "quantitative",
     "axis": {"title": "Seconds", "titleFont": "DejaVu Sans", "titleFontSize": 11, "titleFontWeight": "normal", "titleColor": "#000000", "titleX": -57, "titleY": 100.5, "titleAngle": 270, "titleAlign": "center", "titleBaseline": "middle", "values": [0,1,2,3,4,5,6,7,8,9,10,11,12,13,14,15,16,17,18,19,20,21,22,23,24,25,26,27,28,29,30,31], "labelExpr": "datum.value == 0 ? '0' : (datum.value % 5 == 0 ? datum.value + '\u00a0m' : '')", "labelFont": "DejaVu Sans Mono", "labelFontSize": 10, "labelColor": "#000000", "labelPadding": {"condition": {"test": "datum.value == 0", "value": 18}, "value": 4}, "grid": true, "gridColor": {"condition": {"test": "datum.value % 5 == 0", "value": "#e6a3a3"}, "value": "#cfcfcf"}, "gridDash": [1, 1], "gridWidth": 1, "ticks": true, "tickSize": 3, "tickColor": {"condition": {"test": "datum.value % 5 == 0", "value": "#e6a3a3"}, "value": "#ffffff"}, "domainColor": "#000000", "domainWidth": 1, "labelOverlap": false}
    }
   }
  }
 ]
}
